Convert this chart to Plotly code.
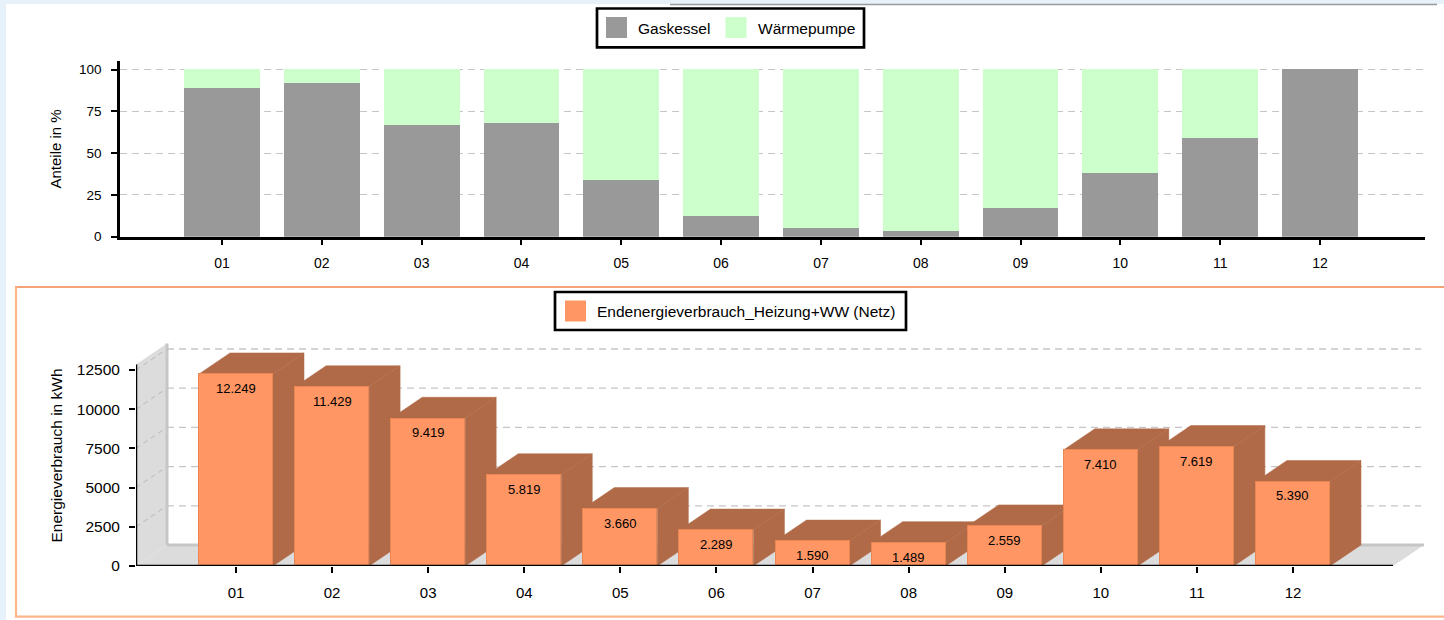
import plotly.graph_objects as go

# ---- data -------------------------------------------------------------
months = ["01", "02", "03", "04", "05", "06", "07", "08", "09", "10", "11", "12"]
gaskessel = [89, 92, 67, 68, 34, 12, 5, 3, 17, 38, 59, 100]
waermepumpe = [11, 8, 33, 32, 66, 88, 95, 97, 83, 62, 41, 0]
energie_kwh = [12249, 11429, 9419, 5819, 3660, 2289, 1590, 1489, 2559, 7410, 7619, 5390]
energie_ticks = [0, 2500, 5000, 7500, 10000, 12500]
anteil_ticks = [0, 25, 50, 75, 100]

# ---- page geometry (pixels) ------------------------------------------
W, H = 1444, 620
FONT = "Liberation Sans, Arial, Helvetica, sans-serif"


def px(x):
    return x / W


def py(y):
    return 1 - y / H


# upper chart: plot area in pixels and axis ranges
TOP_X0, TOP_X1 = 120, 1425
TOP_Y0, TOP_Y1 = 236.7, 61.2
TOP_XR = [-1.022, 12.052]
TOP_YR = [0, 105]

# lower chart: front plane of the pseudo-3D axes
BOT_X0, BOT_X1 = 136, 1393
BOT_Y0 = 566
XL, XR = -1.041, 12.041
Y_PX_PER_UNIT = 39.2 / 2500
X_PX_PER_UNIT = (BOT_X1 - BOT_X0) / (XR - XL)
DEPTH_X, DEPTH_Y = 31, 21                 # depth offset in pixels
DDX = DEPTH_X / X_PX_PER_UNIT             # same offset in axis units
DDY = DEPTH_Y / Y_PX_PER_UNIT
WALL_TOP = 12850
YMAX = 14300
BOT_YTOP = BOT_Y0 - YMAX * Y_PX_PER_UNIT
BOT_XEND = BOT_X1 + DEPTH_X

BAR_W_TOP = 0.76
BAR_W_BOT = 0.77

FRONT = "#ff9663"
FRONT_EDGE = "#ea8653"
SIDE = "#b16a47"
WALL = "#dcdcdc"
WALL_EDGE = "#c6c6c6"
GRID = "#c6c6c6"

fig = go.Figure()

# ---- upper chart: stacked shares --------------------------------------
xi = list(range(len(months)))
fig.add_trace(go.Bar(x=xi, y=gaskessel, name="Gaskessel", marker_color="#999999",
                     marker_line_width=0, width=BAR_W_TOP, xaxis="x", yaxis="y",
                     showlegend=False))
fig.add_trace(go.Bar(x=xi, y=waermepumpe, name="Wärmepumpe", marker_color="#ccffcc",
                     marker_line_width=0, width=BAR_W_TOP, xaxis="x", yaxis="y",
                     showlegend=False))

# ---- lower chart: front faces of the 3D bars --------------------------
fig.add_trace(go.Bar(x=xi, y=energie_kwh, name="Endenergieverbrauch_Heizung+WW (Netz)",
                     marker=dict(color=FRONT, line=dict(color=FRONT_EDGE, width=1)),
                     width=BAR_W_BOT, xaxis="x2", yaxis="y2", showlegend=False))

shapes = []

# page background panels
shapes.append(dict(type="rect", xref="paper", yref="paper", x0=px(6), x1=1, y0=-0.05, y1=py(4),
                   fillcolor="white", line_width=0, layer="below"))
shapes.append(dict(type="line", xref="paper", yref="paper", x0=px(670), x1=px(1437),
                   y0=py(4.5), y1=py(4.5), line=dict(color="#9a9a9a", width=1.5)))
shapes.append(dict(type="line", xref="paper", yref="paper", x0=px(15), x1=1,
                   y0=py(287), y1=py(287), line=dict(color="#ef8548", width=1.5)))
shapes.append(dict(type="line", xref="paper", yref="paper", x0=px(16), x1=px(16),
                   y0=py(287), y1=py(617.5), line=dict(color="#fdb68c", width=2.2)))
shapes.append(dict(type="line", xref="paper", yref="paper", x0=px(15), x1=1,
                   y0=py(616.7), y1=py(616.7), line=dict(color="#fdb68c", width=2.2)))

# lower chart: side wall and floor
B = dict(xref="x2", yref="y2", layer="below")
shapes.append(dict(type="path", **B, fillcolor=WALL, line_width=0,
                   path=f"M{XL},0 L{XL + DDX},{DDY} L{XL + DDX},{WALL_TOP + DDY} L{XL},{WALL_TOP} Z"))
shapes.append(dict(type="path", **B, fillcolor=WALL, line_width=0,
                   path=f"M{XL},0 L{XL + DDX},{DDY} L{XR + DDX},{DDY} L{XR},0 Z"))
for v in energie_ticks[1:]:
    shapes.append(dict(type="line", **B, x0=XL, y0=v, x1=XL + DDX, y1=v + DDY,
                       line=dict(color="#c2c2c2", width=1.2, dash="5px,4px")))
    shapes.append(dict(type="line", **B, x0=XL + DDX, y0=v + DDY, x1=XR + DDX - 0.03, y1=v + DDY,
                       line=dict(color=GRID, width=1.3, dash="7px,5px")))
shapes.append(dict(type="line", **B, x0=XL + DDX, y0=DDY, x1=XL + DDX, y1=WALL_TOP + DDY,
                   line=dict(color=WALL_EDGE, width=3)))
shapes.append(dict(type="line", **B, x0=XL + DDX, y0=DDY, x1=XR + DDX, y1=DDY,
                   line=dict(color=WALL_EDGE, width=3)))

# lower chart: side and top faces of each bar
for i, v in enumerate(energie_kwh):
    xl, xr = i - BAR_W_BOT / 2, i + BAR_W_BOT / 2
    shapes.append(dict(type="path", **B, fillcolor=SIDE, line=dict(color=SIDE, width=0.5),
                       path=f"M{xr},0 L{xr + DDX},{DDY} L{xr + DDX},{v + DDY} L{xr},{v} Z"))
    shapes.append(dict(type="path", **B, fillcolor=SIDE, line=dict(color=SIDE, width=0.5),
                       path=f"M{xl},{v} L{xl + DDX},{v + DDY} L{xr + DDX},{v + DDY} L{xr},{v} Z"))

# lower chart: front axis lines
shapes.append(dict(type="line", xref="x2", yref="y2", x0=XL, x1=XR, y0=0, y1=0,
                   line=dict(color="black", width=2.5), layer="above"))
shapes.append(dict(type="line", xref="x2", yref="y2", x0=XL, x1=XL, y0=0, y1=WALL_TOP,
                   line=dict(color="black", width=2.5), layer="above"))

# legend boxes
def legend_box(x0, x1, y0, y1):
    shapes.append(dict(type="rect", xref="paper", yref="paper", x0=px(x0), x1=px(x1),
                       y0=py(y1), y1=py(y0), fillcolor="white",
                       line=dict(color="black", width=2.7)))


def swatch(x0, y0, color):
    shapes.append(dict(type="rect", xref="paper", yref="paper", x0=px(x0), x1=px(x0 + 21),
                       y0=py(y0 + 21), y1=py(y0), fillcolor=color, line_width=0))


legend_box(597, 864, 8.5, 47.3)
swatch(606, 17, "#999999")
swatch(725.5, 17, "#ccffcc")
legend_box(555, 906, 292, 330)
swatch(565, 300.5, FRONT)

annotations = []


def label(x, y, text, size=15.5, **kw):
    annotations.append(dict(xref="paper", yref="paper", x=px(x), y=py(y), text=text,
                            showarrow=False, font=dict(family=FONT, size=size, color="black"),
                            **kw))


label(636, 28, "Gaskessel", xanchor="left", yanchor="middle")
label(756, 28, "Wärmepumpe", xanchor="left", yanchor="middle")
label(595, 311, "Endenergieverbrauch_Heizung+WW (Netz)", xanchor="left", yanchor="middle")

# axis titles
label(55, 148.5, "Anteile in %", size=15, textangle=-90, xanchor="center", yanchor="middle")
label(56, 455.5, "Energieverbrauch in kWh", size=15.5, textangle=-90,
      xanchor="center", yanchor="middle")

# value labels inside the bars
for i, v in enumerate(energie_kwh):
    annotations.append(dict(xref="x2", yref="y2", x=i, y=v, text=f"{v:,}".replace(",", "."),
                            showarrow=False, yanchor="top", yshift=-5,
                            font=dict(family=FONT, size=13, color="black")))

axis_common = dict(ticks="outside", tickcolor="black", tickwidth=2, ticklen=6,
                   zeroline=False, automargin=False)

fig.update_layout(
    width=W, height=H,
    autosize=False,
    margin=dict(l=0, r=0, t=0, b=0, pad=0, autoexpand=False),
    paper_bgcolor="#e6f1fa",
    plot_bgcolor="rgba(0,0,0,0)",
    font=dict(family=FONT, color="black"),
    barmode="stack",
    bargap=0,
    showlegend=False,
    xaxis=dict(domain=[px(TOP_X0), px(TOP_X1)], anchor="y", range=TOP_XR,
               tickvals=xi, ticktext=months, showgrid=False,
               showline=True, linecolor="black", linewidth=2.5,
               tickfont=dict(size=14), ticklabelstandoff=6, **axis_common),
    yaxis=dict(domain=[py(TOP_Y0), py(TOP_Y1)], anchor="x", range=TOP_YR,
               tickvals=anteil_ticks, showgrid=True, gridcolor=GRID, gridwidth=1.3,
               griddash="7px,5px", showline=True, linecolor="black", linewidth=2.5,
               tickfont=dict(size=13.5), ticklabelstandoff=7, **axis_common),
    xaxis2=dict(domain=[px(BOT_X0), px(BOT_XEND)], anchor="y2", range=[XL, XR + DDX],
                tickvals=xi, ticktext=months, showgrid=False, showline=False,
                tickfont=dict(size=15), ticklabelstandoff=7, **axis_common),
    yaxis2=dict(domain=[py(BOT_Y0), py(BOT_YTOP)], anchor="x2", range=[0, YMAX],
                tickvals=energie_ticks, ticktext=[str(t) for t in energie_ticks],
                showgrid=False, showline=False,
                tickfont=dict(size=15.5), ticklabelstandoff=6, **axis_common),
    shapes=shapes,
    annotations=annotations,
)

fig.write_html("out.html", config={"responsive": False})
